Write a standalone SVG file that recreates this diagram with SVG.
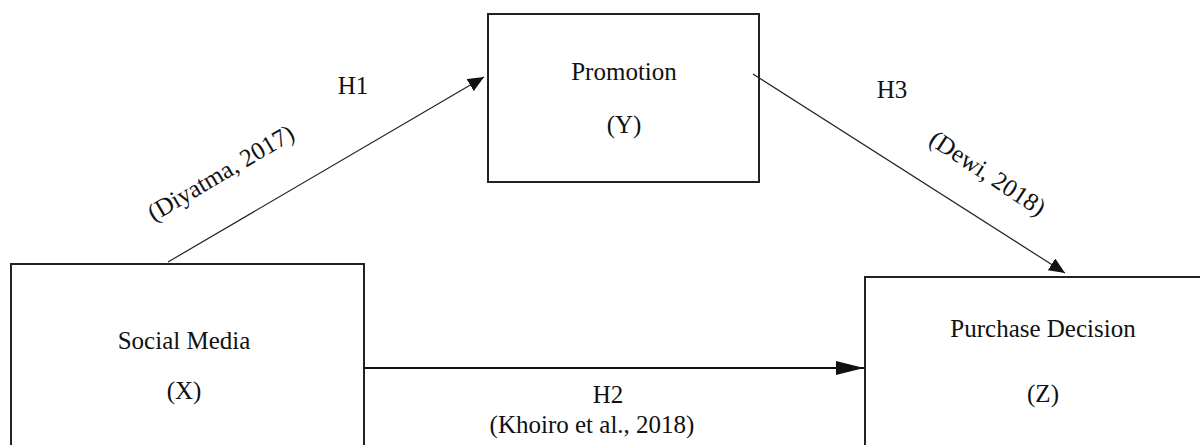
<svg xmlns="http://www.w3.org/2000/svg" width="1200" height="445" viewBox="0 0 1200 445">
<style>
.box{fill:#fff;stroke:#222;stroke-width:2}
.t{font-family:"Liberation Serif","Times New Roman",serif;font-size:25px;fill:#111;text-anchor:middle}
.thin{stroke:#222;stroke-width:1.2;fill:none}
.thick{stroke:#111;stroke-width:2.2;fill:none}
</style>
<defs>
<marker id="ah" markerUnits="userSpaceOnUse" markerWidth="16" markerHeight="14" refX="16" refY="7" orient="auto"><path d="M0,0 L16,7 L0,14 Z" fill="#111"/></marker>
<marker id="ahb" markerUnits="userSpaceOnUse" markerWidth="28" markerHeight="14" refX="28" refY="7" orient="auto"><path d="M0,0 L28,7 L0,14 Z" fill="#111"/></marker>
</defs>
<rect width="1200" height="445" fill="#fff"/>
<g id="promotion">
<rect class="box" x="488" y="14" width="271" height="168"/>
<text class="t" x="624" y="80">Promotion</text>
<text class="t" x="624" y="133">(Y)</text>
</g>
<g id="social-media">
<rect class="box" x="11" y="264" width="353" height="200"/>
<text class="t" x="184" y="349">Social Media</text>
<text class="t" x="184" y="399">(X)</text>
</g>
<g id="purchase-decision">
<rect class="box" x="865" y="277" width="360" height="200"/>
<text class="t" x="1043" y="337">Purchase Decision</text>
<text class="t" x="1043" y="402">(Z)</text>
</g>
<g id="connectors">
<line class="thin" x1="168" y1="262" x2="484" y2="77" marker-end="url(#ah)"/>
<line class="thin" x1="753" y1="74" x2="1065" y2="273" marker-end="url(#ah)"/>
<line class="thick" x1="365" y1="368" x2="864" y2="368" marker-end="url(#ahb)"/>
<text class="t" x="353" y="94">H1</text>
<text class="t" transform="translate(225,180) rotate(-30.5)">(Diyatma, 2017)</text>
<text class="t" x="892" y="98">H3</text>
<text class="t" transform="translate(983,180) rotate(33.5)">(Dewi, 2018)</text>
<text class="t" x="608" y="403">H2</text>
<text class="t" x="592" y="433">(Khoiro et al., 2018)</text>
</g>
</svg>
